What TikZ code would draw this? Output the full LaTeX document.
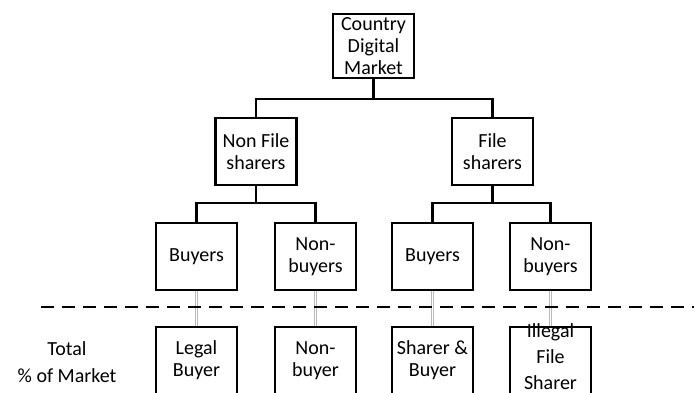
\documentclass[tikz,border=0pt]{standalone}
\usepackage{fontspec}
\setmainfont{Carlito}
\usepackage{tikz}

\tikzset{
  segbox/.style={draw=black, line width=2.8pt, fill=white, inner sep=0pt,
    minimum width=81pt, minimum height=67pt, align=center,
    font=\fontsize{20}{22}\selectfont},
  tree/.style={color=black, line width=2.5pt},
  link/.style={draw=gray!55, line width=0.6pt, double=white, double distance=1.6pt},
}

\begin{document}
\begin{tikzpicture}[%
      x=1pt, y=-1pt,
      ]
      \useasboundingbox (0,0) rectangle (694,392);

      \coordinate (j0) at (373.5,99);
      \coordinate (j1) at (256,203);
      \coordinate (j2) at (492.5,203);
      \coordinate (dl) at (41,307);
      \coordinate (dr) at (694,307);

      \draw [tree] (373.5,78) -- (j0);
      \draw [tree] (256,118) |- (j0) -| (492.5,118);
      \draw [tree] (256,185) -- (j1);
      \draw [tree] (196.5,223) |- (j1) -| (315.5,223);
      \draw [tree] (492.5,185) -- (j2);
      \draw [tree] (432.5,223) |- (j2) -| (550.5,223);

      \node [segbox, minimum height=64pt] (root) at (373.5,46) {Country\\Digital\\Market};

      \node [segbox] (nfs) at (256,151.5) {Non File\\sharers};
      \node [segbox] (fs) at (492.5,151.5) {File\\sharers};

      \node [segbox] (buy1) at (196.5,256.5) {Buyers};
      \node [segbox] (nonbuy1) at (315.5,256.5) {Non-\\buyers};
      \node [segbox] (buy2) at (432.5,256.5) {Buyers};
      \node [segbox] (nonbuy2) at (550.5,256.5) {Non-\\buyers};

      \node [segbox] (legal) at (196.5,360.5) {Legal\\Buyer};
      \node [segbox] (nonbuyer) at (315.5,360.5) {Non-\\buyer};
      \node [segbox] (sharebuy) at (432.5,360.5) {Sharer \&\\Buyer};
      \node [segbox, font=\fontsize{20}{26}\selectfont] (illegal) at (550.5,360.5)
        {\smash{\raisebox{-3pt}{\begin{tabular}{@{}c@{}}Illegal\\File\\Sharer\end{tabular}}}};

      \draw [link] (buy1.south) -- (legal.north);
      \draw [link] (nonbuy1.south) -- (nonbuyer.north);
      \draw [link] (buy2.south) -- (sharebuy.north);
      \draw [link] (nonbuy2.south) -- (illegal.north);

      \draw [color=black, line width=2.8pt, dash pattern=on 13pt off 8pt] (dl) -- (dr);

      \node [align=center, font=\fontsize{20}{27}\selectfont] (total) at (67,362) {Total\\\% of Market};
\end{tikzpicture}
\end{document}
